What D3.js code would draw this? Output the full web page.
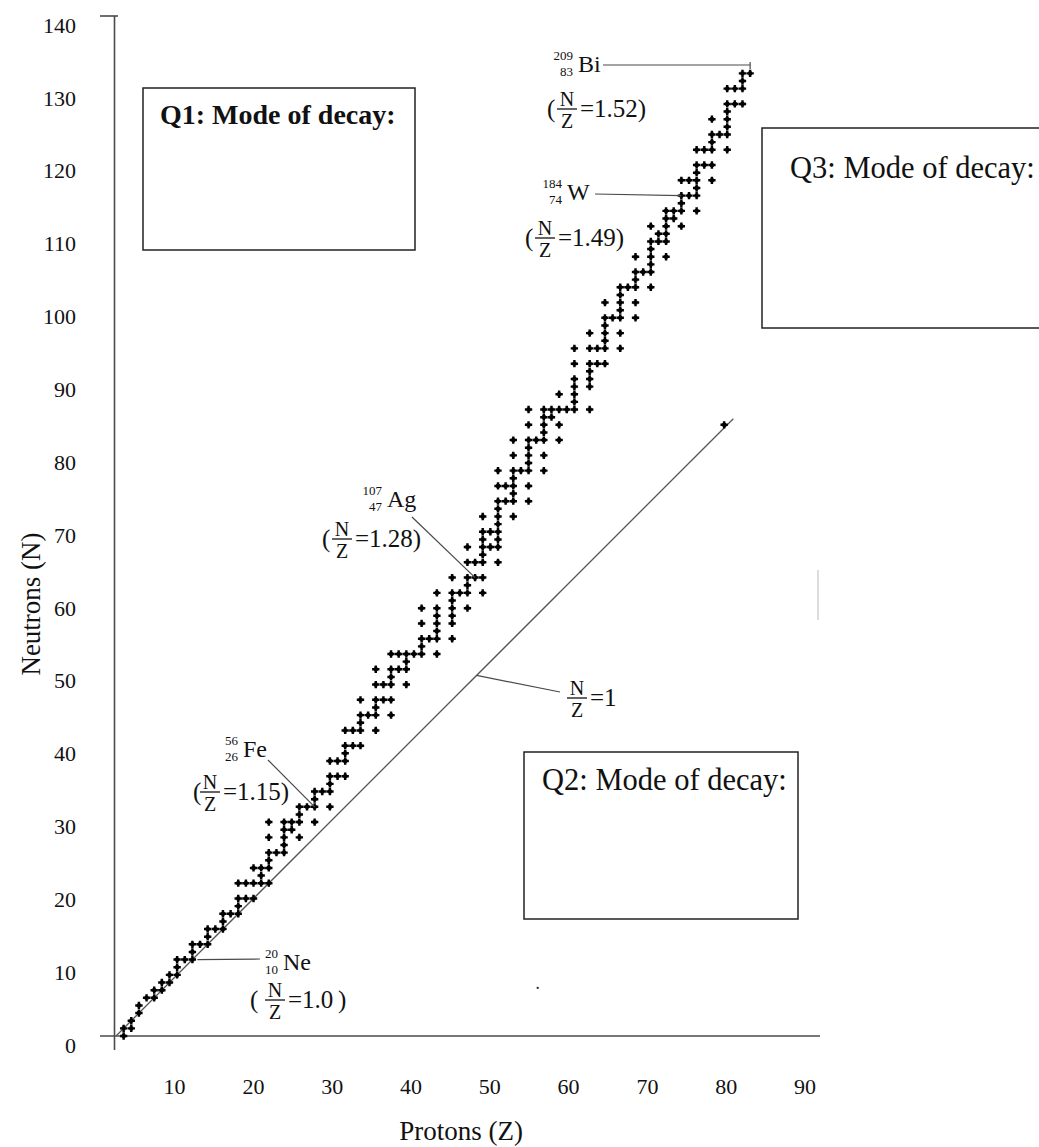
<!DOCTYPE html>
<html>
<head>
<meta charset="utf-8">
<script src="https://cdn.jsdelivr.net/npm/d3@7"></script>
<style>
  body { margin: 0; background: #fff; }
  svg text { font-family: "Liberation Serif", "Times New Roman", serif; fill: #111; }
</style>
</head>
<body>
<div id="chart"></div>
<script>
// stable nuclides: neutron numbers for Z = 1 .. 83 (index + 1)
const stableNeutrons = [
  [0,1],[1,2],[3,4],[5],[5,6],[6,7],[7,8],[8,9,10],[10],[10,11,12],
  [12],[12,13,14],[14],[14,15,16],[16],[16,17,18,20],[18,20],[18,20,22],[20,21,22],[20,22,23,24,26,28],
  [24],[24,25,26,27,28],[27,28],[26,28,29,30],[30],[28,30,31,32],[32],[30,32,33,34,36],[34,36],[34,36,37,38,40],
  [38,40],[38,40,41,42,44],[42],[40,42,43,44,46,48],[44,46],[42,44,46,47,48,50],[48,50],[46,48,49,50],[50],[50,51,52,54,56],
  [52],[50,52,53,54,55,56,58],[],[52,54,55,56,57,58,60],[58],[56,58,59,60,62,64],[60,62],[58,60,62,63,64,65,66,68],[64,66],[62,64,65,66,67,68,69,70,72,74],
  [70,72],[68,70,71,72,73,74,76,78],[74],[70,72,74,75,76,77,78,80,82],[78],[74,76,78,79,80,81,82],[81,82],[78,80,82,84],[82],[82,83,84,85,86,88,90],
  [],[82,85,86,87,88,90,92],[88,90],[88,90,91,92,93,94,96],[94],[90,92,94,95,96,97,98],[98],[94,96,98,99,100,102],[100],[98,100,101,102,103,104,106],
  [104,105],[102,104,105,106,107,108],[107,108],[106,108,109,110,112],[110,112],[108,110,111,112,113,114,116],[114,116],[112,114,116,117,118,120],[118],[116,118,119,120,121,122,124],
  [122,124],[122,124,125,126],[126]
];
const strayPoints = [[79.6, 80.0]];      // blob at the end of the N=Z line
const specks = [[55.2, 6.3]];            // faint speck below the line
const lineEnd = 80.8;                    // N = Z line drawn up to here

const xTicks = [10, 20, 30, 40, 50, 60, 70, 80, 90];
const yTicks = [0, 10, 20, 30, 40, 50, 60, 70, 80, 90, 100, 110, 120, 130, 140];

const labelled = [
  { sym: "Bi", A: 209, Z: 83, N: 126, ratio: "1.52" },
  { sym: "W",  A: 184, Z: 74, N: 110, ratio: "1.49" },
  { sym: "Ag", A: 107, Z: 47, N: 60,  ratio: "1.28" },
  { sym: "Fe", A: 56,  Z: 26, N: 30,  ratio: "1.15" },
  { sym: "Ne", A: 20,  Z: 10, N: 10,  ratio: "1.0" }
];
const questions = ["Q1: Mode of decay:", "Q2: Mode of decay:", "Q3: Mode of decay:"];

const width = 1039, height = 1147;
const svg = d3.select("#chart").append("svg")
  .attr("width", width).attr("height", height);

// where the nuclides sit
const x = d3.scaleLinear().domain([0, 90]).range([116, 116 + 7.64 * 90]);
const y = d3.scaleLinear().domain([0, 140]).range([1036, 1036 - 7.64 * 140]);
// where the printed tick labels sit
const xt = d3.scaleLinear().domain([0, 90]).range([95.3, 804.5]);
const yt = d3.scaleLinear().domain([0, 140]).range([1036, 16]);

const ink = "#4a4a4a";

// axes
svg.append("line").attr("x1", 114.5).attr("x2", 114.5).attr("y1", 16).attr("y2", 1050)
  .attr("stroke", ink).attr("stroke-width", 1.6);
svg.append("line").attr("x1", 100).attr("x2", 118).attr("y1", 16).attr("y2", 16)
  .attr("stroke", ink).attr("stroke-width", 1.6);
svg.append("line").attr("x1", 100).attr("x2", 820).attr("y1", 1036).attr("y2", 1036)
  .attr("stroke", ink).attr("stroke-width", 1.6);

svg.append("g")
  .attr("transform", "translate(76,0)")
  .call(d3.axisLeft(yt).tickValues(yTicks).tickSize(0).tickPadding(0))
  .call(g => g.select(".domain").remove())
  .call(g => g.selectAll("text").attr("dy", "0.74em").style("font-size", "22px"));

svg.append("g")
  .attr("transform", "translate(0,1078)")
  .call(d3.axisBottom(xt).tickValues(xTicks).tickSize(0).tickPadding(0))
  .call(g => g.select(".domain").remove())
  .call(g => g.selectAll("text").style("font-size", "22px"));

svg.append("text")
  .attr("transform", "translate(40,604) rotate(-90)")
  .attr("text-anchor", "middle")
  .style("font-size", "27px")
  .text("Neutrons (N)");

svg.append("text")
  .attr("x", 461).attr("y", 1140)
  .attr("text-anchor", "middle")
  .style("font-size", "27px")
  .text("Protons (Z)");

// N = Z line
svg.append("line")
  .attr("x1", x(0)).attr("y1", y(0))
  .attr("x2", x(lineEnd)).attr("y2", y(lineEnd))
  .attr("stroke", "#555").attr("stroke-width", 1.3);

// nuclides: a small square with a cross over it
const points = stableNeutrons.flatMap((ns, i) => ns.map(n => [i + 1, n])).concat(strayPoints);
const cross = d3.symbol().type(d3.symbolCross).size(30);
const square = d3.symbol().type(d3.symbolSquare).size(14);
const dots = svg.append("g").selectAll("g")
  .data(points)
  .join("g")
  .attr("transform", d => `translate(${x(d[0])},${y(d[1])})`);
dots.append("path").attr("d", square).attr("fill", "#000");
dots.append("path").attr("d", cross).attr("fill", "#000");

svg.append("g").selectAll("circle")
  .data(specks)
  .join("circle")
  .attr("cx", d => x(d[0])).attr("cy", d => y(d[1]))
  .attr("r", 1.2).attr("fill", "#333");

// faint stray mark on the right
svg.append("line").attr("x1", 818).attr("x2", 818).attr("y1", 570).attr("y2", 620)
  .attr("stroke", "#bbb").attr("stroke-width", 1);

// labels
const lab = svg.append("g");

function nuclide(d, sx, sy) {
  lab.append("text").attr("x", sx).attr("y", sy).style("font-size", "24px").text(d.sym);
  lab.append("text").attr("x", sx - 5).attr("y", sy - 12).attr("text-anchor", "end")
    .style("font-size", "13px").text(d.A);
  lab.append("text").attr("x", sx - 5).attr("y", sy + 4).attr("text-anchor", "end")
    .style("font-size", "13px").text(d.Z);
}

function fraction(x0, yb, rest, opts = {}) {
  const open = opts.open ?? "(";
  const fx = x0 + (opts.fracDx ?? 20);
  if (open) lab.append("text").attr("x", x0).attr("y", yb + 8).style("font-size", "25px").text(open);
  lab.append("text").attr("x", fx).attr("y", yb - 3).attr("text-anchor", "middle")
    .style("font-size", "20px").text("N");
  lab.append("text").attr("x", fx).attr("y", yb + 19).attr("text-anchor", "middle")
    .style("font-size", "20px").text("Z");
  lab.append("line").attr("x1", fx - 10).attr("x2", fx + 10).attr("y1", yb).attr("y2", yb)
    .attr("stroke", "#111").attr("stroke-width", 1.3);
  lab.append("text").attr("x", fx + 13).attr("y", yb + 8).style("font-size", "25px").text(rest);
}

function leader(x1, y1, x2, y2) {
  lab.append("line").attr("x1", x1).attr("y1", y1).attr("x2", x2).attr("y2", y2)
    .attr("stroke", ink).attr("stroke-width", 1.2);
}

const [bi, w, ag, fe, ne] = labelled;

nuclide(bi, 578, 72);
leader(603, 65, x(bi.Z), 65);
leader(x(bi.Z), 62, x(bi.Z), 69);
fraction(547, 109, "=" + bi.ratio + ")");

nuclide(w, 567, 200);
leader(595, 194, x(w.Z), y(w.N));
fraction(525, 238, "=" + w.ratio + ")");

nuclide(ag, 387, 507);
leader(412, 517, x(ag.Z), y(ag.N));
fraction(322, 539, "=" + ag.ratio + ")");

nuclide(fe, 243, 757);
leader(268, 760, x(fe.Z), y(fe.N));
fraction(193, 792, "=" + fe.ratio + ")", { fracDx: 17 });

nuclide(ne, 283, 970);
leader(x(ne.Z) + 5, y(ne.N), 260, 959);
fraction(250, 1000, "=" + ne.ratio, { fracDx: 25 });
lab.append("text").attr("x", 338).attr("y", 1008).style("font-size", "25px").text(")");

// N/Z = 1 line callout
leader(x(47.2), y(47.2), 560, 692);
fraction(0, 698, "=1", { open: "", fracDx: 577 });

// question boxes
const boxes = [
  { x: 143, y: 88, w: 272, h: 162, tx: 160, ty: 124, bold: true, size: 28 },
  { x: 524, y: 752, w: 274, h: 167, tx: 542, ty: 790, bold: false, size: 30.5 },
  { x: 762, y: 128, w: 290, h: 200, tx: 790, ty: 178, bold: false, size: 30.5 }
];
boxes.forEach((b, i) => {
  svg.append("rect").attr("x", b.x).attr("y", b.y).attr("width", b.w).attr("height", b.h)
    .attr("fill", "none").attr("stroke", "#222").attr("stroke-width", 1.5);
  svg.append("text").attr("x", b.tx).attr("y", b.ty)
    .style("font-size", b.size + "px")
    .style("font-weight", b.bold ? "bold" : "normal")
    .text(questions[i]);
});
</script>
</body>
</html>
